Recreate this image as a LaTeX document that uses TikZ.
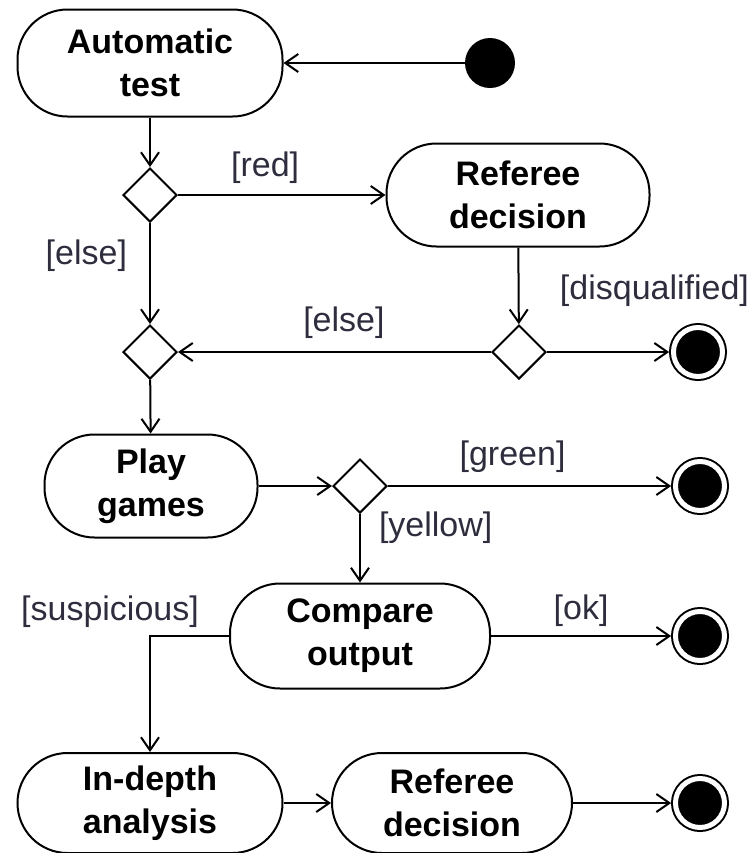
\documentclass[tikz,border=0pt]{standalone}
\usepackage{fontspec}
\setmainfont{Liberation Sans}
\usetikzlibrary{positioning,shapes.geometric,arrows.meta}

\definecolor{guardcol}{RGB}{45,45,62}

\tikzset{
  action/.style={draw, line width=1pt, rectangle, rounded corners=25pt,
    align=center, inner sep=0pt,
    font=\bfseries\fontsize{17}{21.5}\selectfont},
  decision/.style={draw, line width=1pt, diamond, aspect=1,
    minimum size=27pt, inner sep=0pt},
  startdot/.style={circle, fill=black, minimum size=25pt, inner sep=0pt},
  enddot/.style={circle, draw, fill=black, line width=1pt, double=white,
    double distance=2.5pt, minimum size=24.5pt, inner sep=0pt, outer sep=2.2pt},
  guard/.style={text=guardcol, inner sep=1pt, font=\fontsize{17}{20}\selectfont},
  flow/.style={line width=1pt, -{Straight Barb[length=6.5pt,width=9pt]}}
}

\begin{document}
\begin{tikzpicture}[x=0.5pt, y=-0.5pt]

  \useasboundingbox (0,0) rectangle (753,853);

  \node (at) [action, minimum width=132.5pt, minimum height=53.5pt] at (150,63) {Automatic\\test};
  \node (start) [startdot] at (490,63) {};
  \node (d1) [decision] at (150,195) {};
  \node (rd1) [action, minimum width=131.5pt, minimum height=51.5pt] at (518,195) {Referee\\decision};
  \node (d2) [decision] at (150,352) {};
  \node (d3) [decision] at (519,352) {};
  \node (end1) [enddot] at (698,352) {};
  \node (play) [action, minimum width=106.5pt, minimum height=51.5pt] at (151,486) {Play\\games};
  \node (d4) [decision] at (360,486) {};
  \node (end2) [enddot] at (700,486) {};
  \node (co) [action, minimum width=130pt, minimum height=52.5pt] at (360,636) {Compare\\output};
  \node (end3) [enddot] at (700,636) {};
  \node (susp) [guard] at (110,612) {[suspicious]};
  \node (ia) [action, minimum width=132.5pt, minimum height=50pt] at (150,803) {In-depth\\analysis};
  \node (rd2) [action, minimum width=120pt, minimum height=50pt] at (452,803) {Referee\\decision};
  \node (end4) [enddot] at (700,803) {};

  \path[flow]
    (start) edge (at)
    (at) edge (d1)
    (d1) edge node[guard, above=4pt, pos=0.42] {[red]} (rd1)
    (d1) edge node[guard, left=10pt, pos=0.32] {[else]} (d2)
    (rd1) edge (d3)
    (d3) edge node[guard, above=5pt, pos=0.47] {[else]} (d2)
    (d3) edge node[guard, above=21pt, pos=0.88] {[disqualified]} (end1)
    (d2) edge (play)
    (play) edge (d4)
    (d4) edge node[guard, above=5pt, pos=0.44] {[green]} (end2)
    (d4) edge node[guard, right=8pt, pos=0.2] {[yellow]} (co)
    (co) edge node[guard, above=3pt, pos=0.5] {[ok]} (end3)
    (ia) edge (rd2)
    (rd2) edge (end4);

  \draw[flow] (co.west) -| (ia.north);

\end{tikzpicture}
\end{document}
